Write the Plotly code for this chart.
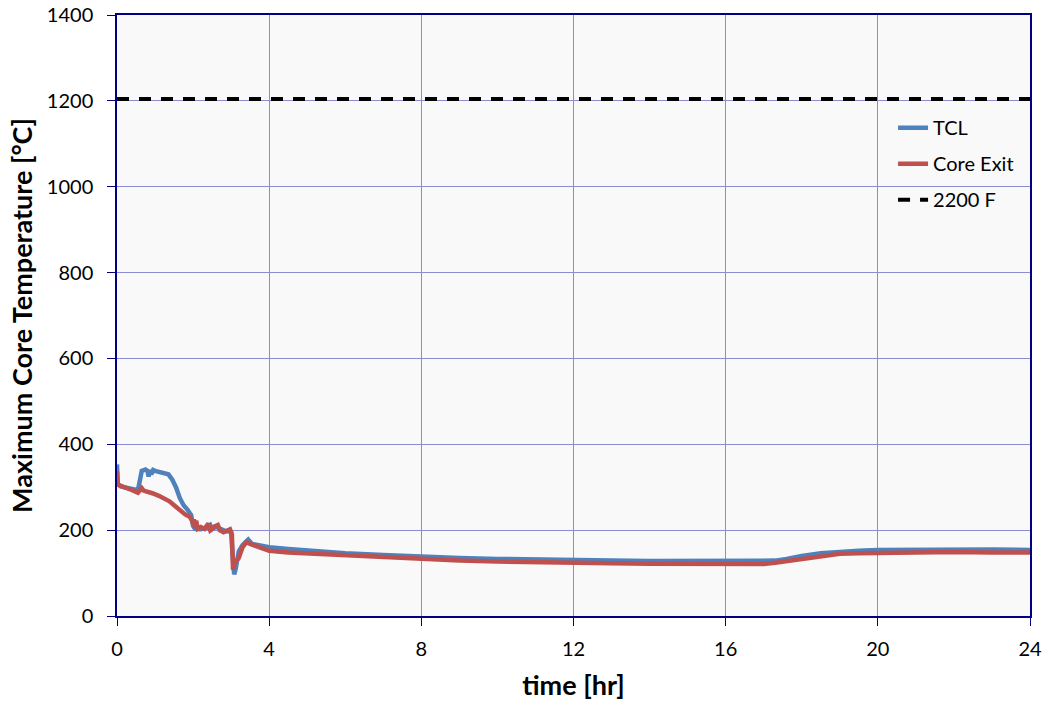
import plotly.graph_objects as go

# ---- data ----
tcl_time = [0, 0.02, 0.1, 0.3, 0.55, 0.6, 0.65, 0.75, 0.8, 0.83, 0.86, 0.9, 0.95, 1.0, 1.1, 1.2, 1.35,
            1.45, 1.55, 1.65, 1.75, 1.85, 1.95, 2.0, 2.05, 2.2, 2.35, 2.45, 2.5, 2.6, 2.75, 2.85, 2.95,
            3.0, 3.04, 3.08, 3.12, 3.2, 3.3, 3.4, 3.45, 3.55, 3.7, 4.0, 4.5, 5, 6, 7, 8, 9, 10, 11, 12,
            13, 14, 15, 16, 16.5, 17, 17.3, 17.6, 18, 18.5, 19, 19.5, 20, 21, 22, 23, 24]
tcl_temp = [353, 308, 302, 298, 293, 315, 338, 341, 338, 325, 340, 330, 340, 338, 336, 334, 330,
            318, 300, 275, 258, 248, 235, 210, 203, 202, 205, 212, 202, 208, 202, 198, 197,
            195, 140, 97, 110, 150, 165, 175, 178, 168, 165, 160, 156, 152, 146, 142, 138, 135, 133, 131, 130,
            129, 128, 128, 127, 127, 127, 129, 133, 140, 146, 150, 152, 154, 155, 155, 155, 154]

core_time = [0, 0.02, 0.1, 0.25, 0.4, 0.55, 0.6, 0.65, 0.7, 0.8, 0.93, 1.1, 1.25, 1.38, 1.5, 1.6,
             1.68, 1.8, 1.9, 1.95, 2.0, 2.02, 2.05, 2.08, 2.12, 2.2, 2.3, 2.4, 2.45, 2.55, 2.65, 2.7,
             2.8, 2.9, 2.97, 3.02, 3.05, 3.1, 3.2, 3.3, 3.4, 3.5, 3.7, 4.0, 4.5, 5, 6, 7, 8, 9, 10,
             11, 12, 13, 14, 15, 16, 16.6, 17, 17.3, 17.6, 18, 18.5, 19, 19.5, 20, 21, 22, 23, 24]
core_temp = [337, 306, 303, 299, 293, 287, 293, 298, 292, 290, 286, 280, 273, 267, 258, 250,
             244, 236, 232, 226, 215, 225, 205, 222, 203, 207, 203, 215, 200, 208, 212, 200,
             195, 198, 202, 190, 108, 125, 135, 160, 172, 168, 162, 152, 148, 146, 140, 136, 132, 129, 127,
             125, 124, 123, 122, 121, 120, 119, 121, 124, 128, 134, 140, 145, 146, 147, 148, 149, 148, 148]

limit_time = [0, 24]
limit_temp = [1204.4, 1204.4]

x_ticks = [0, 4, 8, 12, 16, 20, 24]
y_ticks = [0, 200, 400, 600, 800, 1000, 1200, 1400]

fig = go.Figure()
fig.add_trace(go.Scatter(x=tcl_time, y=tcl_temp, mode="lines", name="TCL", legendgroup="a",
                         line=dict(color="#4F81BD", width=4.5)))
fig.add_trace(go.Scatter(x=core_time, y=core_temp, mode="lines", name="Core Exit", legendgroup="b",
                         line=dict(color="#C0504D", width=4.5)))
fig.add_trace(go.Scatter(x=limit_time, y=limit_temp, mode="lines", name="2200 F", legendgroup="c",
                         line=dict(color="black", width=4, dash="12px,10px")))

axis_common = dict(showline=True, linecolor="#000080", linewidth=1.5, mirror=True,
                   gridcolor="#8C8CD2", gridwidth=1, ticks="outside", ticklen=8,
                   tickcolor="#000080", zeroline=False, automargin=False,
                   ticklabeloverflow="allow",
                   tickfont=dict(family="Lato", size=20, color="black"))

fig.update_xaxes(range=[0, 24], tickvals=x_ticks, ticklabelstandoff=6,
                 title=dict(text="<b>time [hr]</b>", font=dict(family="Lato", size=27, color="black"),
                            standoff=17),
                 **axis_common)
fig.update_yaxes(range=[0, 1400], tickvals=y_ticks, ticklabelstandoff=10,
                 title=dict(text="<b>Maximum Core Temperature [°C]</b>",
                            font=dict(family="Lato", size=27, color="black"), standoff=6),
                 **axis_common)

fig.update_layout(
    width=1049, height=709,
    margin=dict(l=117, r=19, t=15, b=93),
    plot_bgcolor="#F9F9F9", paper_bgcolor="white",
    legend=dict(x=0.850, y=0.845, xanchor="left", yanchor="top", bgcolor="rgba(0,0,0,0)",
                font=dict(family="Lato", size=20, color="black"), tracegroupgap=7),
)

# remove the default page margin so the figure fills the 1049x709 window exactly
fig.write_html("out.html", config={"displayModeBar": False},
               post_script="document.body.style.margin='0';document.body.style.overflow='hidden';")
